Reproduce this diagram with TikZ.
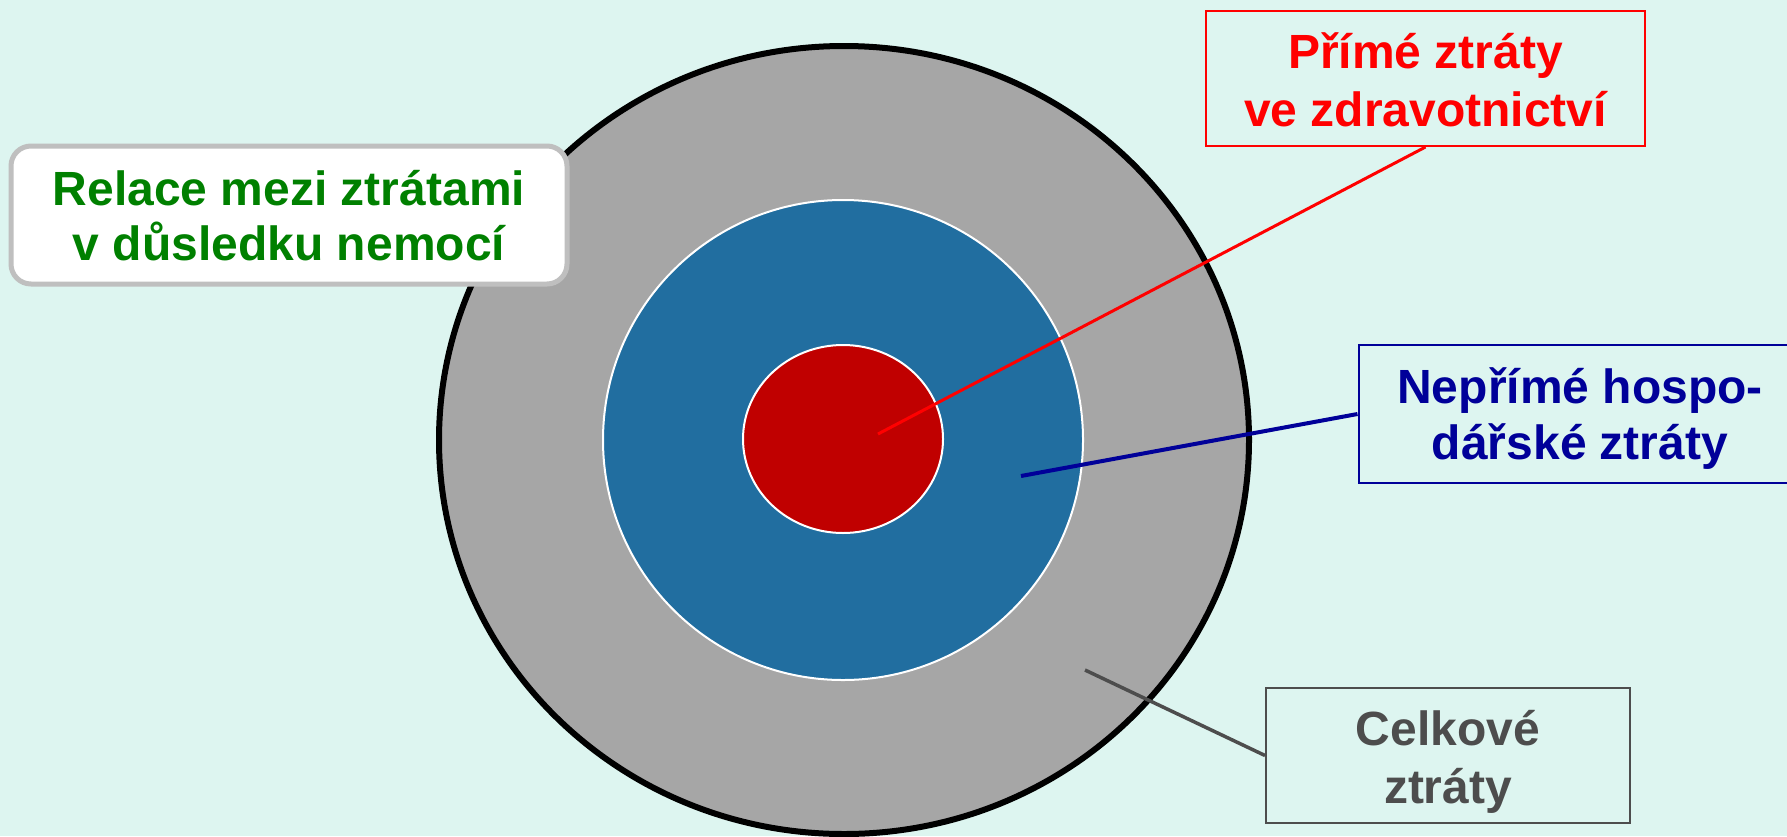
\documentclass[tikz,border=0pt]{standalone}
\usepackage{fontspec}
\setmainfont{Liberation Sans}
\definecolor{bgc}{RGB}{221,245,240}
\definecolor{ringgray}{RGB}{166,166,166}
\definecolor{midblue}{RGB}{33,110,160}
\definecolor{corered}{RGB}{192,0,0}
\definecolor{txtred}{RGB}{255,0,0}
\definecolor{txtgreen}{RGB}{0,128,0}
\definecolor{txtblue}{RGB}{0,0,153}
\definecolor{txtgray}{RGB}{77,77,77}
\definecolor{boxgray}{RGB}{191,191,191}
\tikzset{
  lbl/.style={anchor=base, inner sep=0pt, font=\bfseries\fontsize{48}{58}\selectfont},
  callout/.style={draw, line width=2pt, inner sep=0pt, rectangle},
}
\begin{document}
\begin{tikzpicture}[x=1pt,y=-1pt]
\useasboundingbox[fill=bgc] (0,0) rectangle (1787,836);
\begin{scope}
\clip (0,0) rectangle (1787,836);
% rings
\draw[fill=ringgray, draw=black, line width=6pt] (844,440) ellipse [x radius=405pt, y radius=394pt];
\draw[fill=midblue, draw=white, line width=2pt] (843,440) ellipse [x radius=240pt, y radius=240pt];
\draw[fill=corered, draw=white, line width=2pt] (843,439) ellipse [x radius=100pt, y radius=94pt];
% title box
\node[callout, draw=boxgray, fill=white, line width=5pt, rounded corners=20pt,
      minimum width=556pt, minimum height=138pt] (title) at (289,215) {};
\node[lbl, text=txtgreen] (title1) at (289,205) {Relace mezi ztrátami};
\node[lbl, text=txtgreen] (title2) at (289,260) {v důsledku nemocí};
% callout boxes
\node[callout, draw=txtred, minimum width=439pt, minimum height=135pt] (rbox) at (1425.5,78.5) {};
\node[lbl, text=txtred] (r1) at (1425.5,68) {Přímé ztráty};
\node[lbl, text=txtred] (r2) at (1425.5,126) {ve zdravotnictví};
\node[callout, draw=txtblue, minimum width=443pt, minimum height=138pt] (bbox) at (1580,414) {};
\node[lbl, text=txtblue] (b1) at (1580,403) {Nepřímé hospo-};
\node[lbl, text=txtblue] (b2) at (1580,459) {dářské ztráty};
\node[callout, draw=txtgray, minimum width=364pt, minimum height=135pt] (gbox) at (1448,755.5) {};
\node[lbl, text=txtgray] (g1) at (1448,745) {Celkové};
\node[lbl, text=txtgray] (g2) at (1448,803) {ztráty};
% connectors
\coordinate (rEnd) at (878,434);
\coordinate (bEnd) at (1021,476);
\coordinate (gEnd) at (1085,670);
\draw[txtred, line width=3pt] (rbox.south) -- (rEnd);
\draw[txtblue, line width=4pt] (bbox.west) -- (bEnd);
\draw[txtgray, line width=3.5pt] (gbox.west) -- (gEnd);
\end{scope}
\end{tikzpicture}
\end{document}
